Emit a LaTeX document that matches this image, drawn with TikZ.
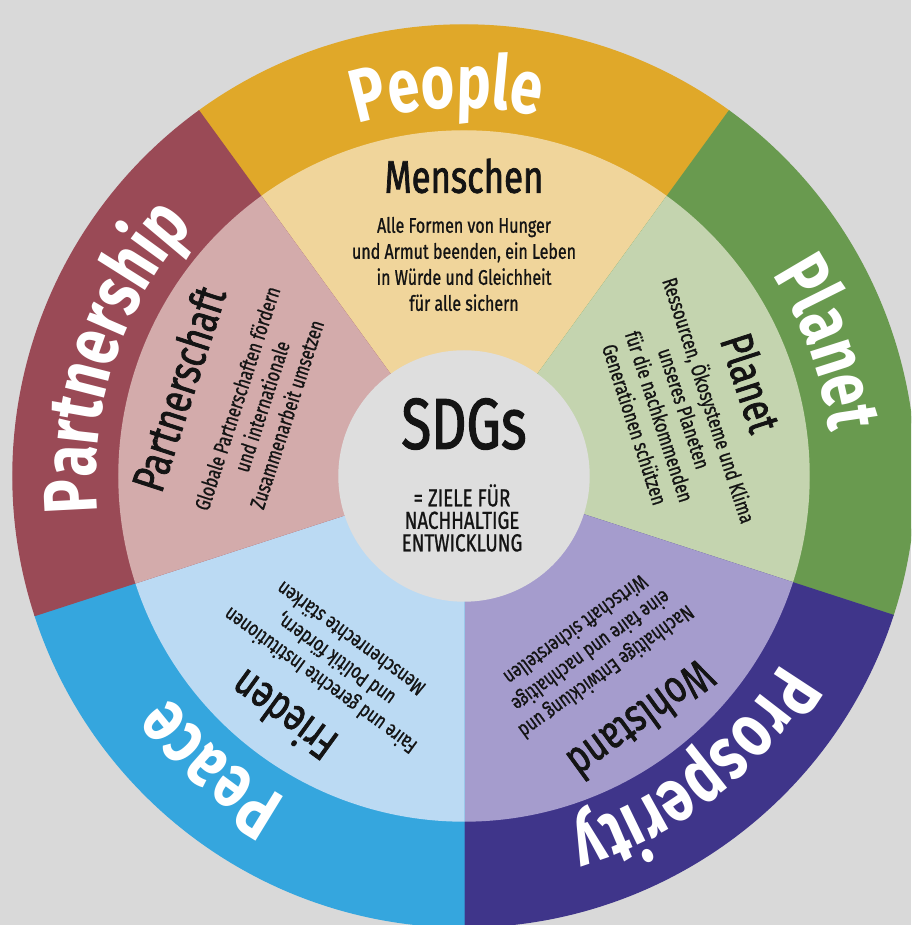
\documentclass[tikz,border=0pt]{standalone}
\usepackage{fontspec}
\setmainfont{Fira Sans}[FakeStretch=0.76]
\newfontfamily\heavyfont{Fira Sans}[FakeStretch=0.76, FakeBold=1.6]
\newfontfamily\goalfont{Fira Sans}[FakeStretch=0.76, FakeBold=0.9]
\usepackage{tikz}
\usetikzlibrary{calc}
\usetikzlibrary{decorations.text}
\definecolor{bggray}{HTML}{D9D9D9}
\definecolor{hubgray}{HTML}{DEDEDE}
\definecolor{peopledark}{HTML}{E0A829}
\definecolor{peoplelight}{HTML}{F0D59B}
\definecolor{planetdark}{HTML}{699A4F}
\definecolor{planetlight}{HTML}{C4D4AF}
\definecolor{prosperitydark}{HTML}{3F358A}
\definecolor{prosperitylight}{HTML}{A59CCD}
\definecolor{peacedark}{HTML}{35A6DE}
\definecolor{peacelight}{HTML}{BBDAF3}
\definecolor{partnershipdark}{HTML}{9A4A56}
\definecolor{partnershiplight}{HTML}{D3ABAB}
\tikzstyle{sector}=[line width=0.4pt]
\tikzstyle{titlenode}=[text=black!92, font=\heavyfont\fontsize{13}{14}\selectfont, inner sep=0pt]
\tikzstyle{goalnode}=[text=black!92, font=\goalfont\fontsize{6}{7.4}\selectfont, align=center, inner sep=0pt]
\tikzstyle{ringlabel}=[decorate, decoration={text along path, text align=center, text color=white}]
\newcommand{\ringfont}{\fontsize{21.5}{22}\selectfont\bfseries}

\begin{document}
\begin{tikzpicture}
	
	% Frame
	\clip (0, 0) rectangle (9.11, 9.25);
	\fill[bggray] (0, 0) rectangle (9.11, 9.25);
	\coordinate (c) at (4.64, 4.49);
	
	% People
	\begin{scope}
	\filldraw[sector, peopledark] (c) -- ($(c) + (126:4.51)$) arc[start angle = 126, end angle = 54, radius = 4.51] -- cycle;
	\filldraw[sector, peoplelight] (c) -- ($(c) + (126:3.45)$) arc[start angle = 126, end angle = 54, radius = 3.45] -- cycle;
	\path[ringlabel, decoration={text={|\ringfont|People}}] ($(c) + (132.5:3.68)$) arc[start angle = 132.5, end angle = 52.5, radius = 3.68];
	\node[titlenode] (menschen) at ($(c) + (90:3.0)$) {Menschen};
	\node[goalnode] (menschengoal) at ($(c) + (90:2.12)$) {Alle Formen von Hunger\\und Armut beenden, ein Leben\\in Würde und Gleichheit\\für alle sichern};
	\end{scope}
	
	% Planet
	\begin{scope}
	\filldraw[sector, planetdark] (c) -- ($(c) + (54:4.51)$) arc[start angle = 54, end angle = -18, radius = 4.51] -- cycle;
	\filldraw[sector, planetlight] (c) -- ($(c) + (54:3.45)$) arc[start angle = 54, end angle = -18, radius = 3.45] -- cycle;
	\path[ringlabel, decoration={text={|\ringfont|Planet}}] ($(c) + (60:3.68)$) arc[start angle = 60, end angle = -20, radius = 3.68];
	\node[titlenode, rotate = -72] (planet) at ($(c) + (18:3.02)$) {Planet};
	\node[goalnode, rotate = -72] (planetgoal) at ($(c) + (17:2.19)$) {Ressourcen, Ökosysteme und Klima\\unseres Planeten\\für die nachkommenden\\Generationen schützen};
	\end{scope}
	
	% Prosperity
	\begin{scope}
	\filldraw[sector, prosperitydark] (c) -- ($(c) + (-18:4.51)$) arc[start angle = -18, end angle = -90, radius = 4.51] -- cycle;
	\filldraw[sector, prosperitylight] (c) -- ($(c) + (-18:3.45)$) arc[start angle = -18, end angle = -90, radius = 3.45] -- cycle;
	\path[ringlabel, decoration={text={|\ringfont|Prosperity}}] ($(c) + (-12:3.68)$) arc[start angle = -12, end angle = -92, radius = 3.68];
	\node[titlenode, rotate = -144] (wohlstand) at ($(c) + (-54:3.02)$) {Wohlstand};
	\node[goalnode, rotate = -144] (wohlstandgoal) at ($(c) + (-54:2.17)$) {Nachhaltige Entwicklung und\\eine faire und nachhaltige\\Wirtschaft sicherstellen};
	\end{scope}
	
	% Peace
	\begin{scope}
	\filldraw[sector, peacedark] (c) -- ($(c) + (-90:4.51)$) arc[start angle = -90, end angle = -162, radius = 4.51] -- cycle;
	\filldraw[sector, peacelight] (c) -- ($(c) + (-90:3.45)$) arc[start angle = -90, end angle = -162, radius = 3.45] -- cycle;
	\path[ringlabel, decoration={text={|\ringfont|Peace}}] ($(c) + (-91:3.68)$) arc[start angle = -91, end angle = -171, radius = 3.68];
	\node[titlenode, rotate = 144] (frieden) at ($(c) + (-127:3.01)$) {Frieden};
	\node[goalnode, rotate = 144] (friedengoal) at ($(c) + (-125:2.25)$) {Faire und gerechte Institutionen\\und Politik fördern,\\Menschenrechte stärken};
	\end{scope}
	
	% Partnership
	\begin{scope}
	\filldraw[sector, partnershipdark] (c) -- ($(c) + (198:4.51)$) arc[start angle = 198, end angle = 126, radius = 4.51] -- cycle;
	\filldraw[sector, partnershiplight] (c) -- ($(c) + (198:3.45)$) arc[start angle = 198, end angle = 126, radius = 3.45] -- cycle;
	\path[ringlabel, decoration={text={|\ringfont|Partnership}}] ($(c) + (201.5:3.68)$) arc[start angle = 201.5, end angle = 121.5, radius = 3.68];
	\node[titlenode, rotate = 72] (partnerschaft) at ($(c) + (163:2.99)$) {Partnerschaft};
	\node[goalnode, rotate = 72] (partnerschaftgoal) at ($(c) + (161:2.14)$) {Globale Partnerschaften fördern\\und internationale\\Zusammenarbeit umsetzen};
	\end{scope}
	
	% SDGs
	\filldraw[sector, hubgray] (c) circle[radius = 1.25];
	\node[text=black!92, font=\heavyfont\fontsize{20.5}{21}\selectfont, inner sep=0pt] (sdgs) at ($(c) + (0, 0.52)$) {SDGs};
	\node[text=black!92, font=\goalfont\fontsize{7}{6.4}\selectfont, align=center, inner sep=0pt] (sdgsgoal) at ($(c) + (-0.02, -0.42)$) {= ZIELE FÜR\\NACHHALTIGE\\ENTWICKLUNG};
	
\end{tikzpicture}
\end{document}
